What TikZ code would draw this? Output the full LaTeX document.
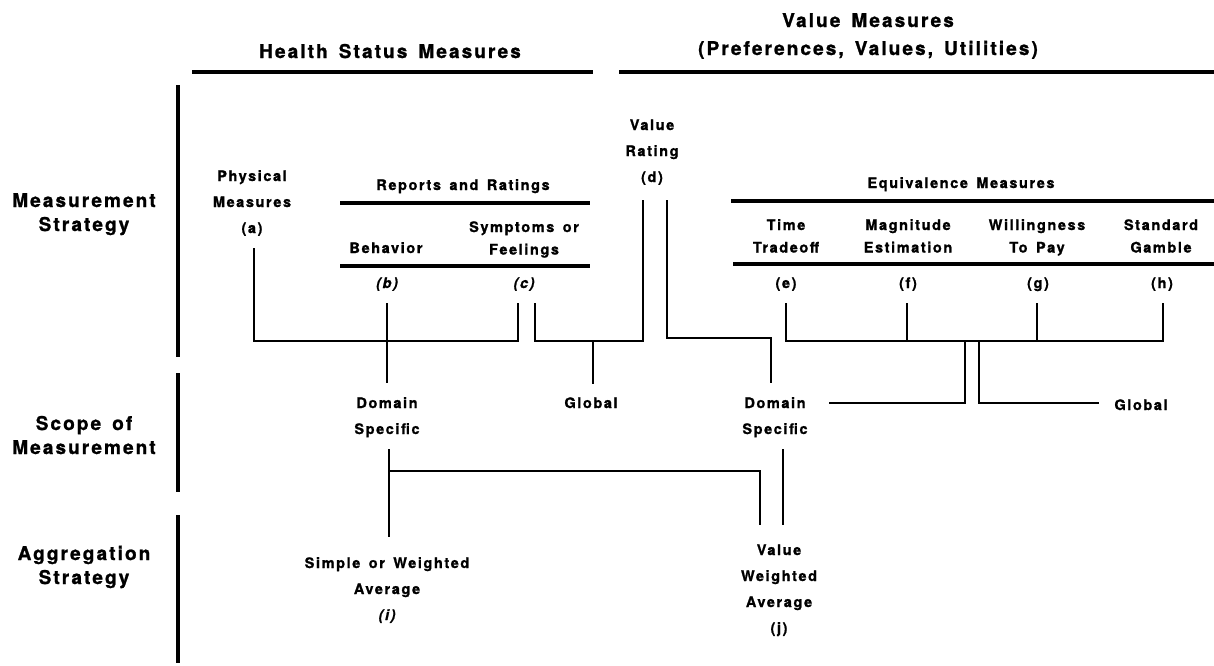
\documentclass[tikz,border=0pt]{standalone}
\usepackage{fontspec}
\newfontfamily\hvfont{TeX Gyre Heros}[LetterSpace=11,WordSpace=1.5,BoldFeatures={FakeBold=1.2},BoldItalicFeatures={FakeBold=1.2}]
\newcommand\mlines[1]{\begin{tabular}[t]{@{}c@{}}#1\end{tabular}}
\tikzset{
  lab/.style={font=\hvfont\bfseries\fontsize{14.5}{26}\selectfont, inner sep=0pt, anchor=base},
  labtight/.style={font=\hvfont\bfseries\fontsize{14.5}{22.5}\selectfont, inner sep=0pt, anchor=base},
  rowlab/.style={font=\hvfont\bfseries\fontsize{19}{24}\selectfont, inner sep=0pt, anchor=base},
  headlab/.style={font=\hvfont\bfseries\fontsize{19}{28}\selectfont, inner sep=0pt, anchor=base},
  conn/.style={line width=2.8pt, line cap=butt, line join=miter},
  rule/.style={line width=4.2pt, line cap=butt},
  bar/.style={line width=4.6pt, line cap=butt},
}
\begin{document}
\begin{tikzpicture}[x=1pt,y=-1pt]
\useasboundingbox (0,0) rectangle (1214,665);
% ---------- headers
\node[headlab] (hsm) at (390,58) {Health Status Measures};
\node[headlab] (vm) at (868,27) {\mlines{Value Measures\\(Preferences, Values, Utilities)}};
\coordinate (hsmL) at (192,72); \coordinate (hsmR) at (593,72);
\coordinate (vmL) at (619,72);  \coordinate (vmR) at (1214,72);
\draw[rule, line width=4.6pt] (hsmL) -- (hsmR);
\draw[rule, line width=4.6pt] (vmL) -- (vmR);
% ---------- left bar and row labels
\coordinate (b1t) at (178,85);  \coordinate (b1b) at (178,357);
\coordinate (b2t) at (178,373); \coordinate (b2b) at (178,492);
\coordinate (b3t) at (178,515); \coordinate (b3b) at (178,663);
\draw[bar] (b1t) -- (b1b);
\draw[bar] (b2t) -- (b2b);
\draw[bar] (b3t) -- (b3b);
\node[rowlab] (rms) at (84,207) {\mlines{Measurement\\Strategy}};
\node[rowlab] (rsm) at (84,430) {\mlines{Scope of\\Measurement}};
\node[rowlab] (ras) at (84,560) {\mlines{Aggregation\\Strategy}};
% ---------- health status measures
\node[lab] (a) at (252,181) {\mlines{Physical\\Measures\\(a)}};
\node[lab] (rr) at (463,190) {Reports and Ratings};
\coordinate (rr1L) at (340,203); \coordinate (rr1R) at (590,203);
\coordinate (rr2L) at (340,266); \coordinate (rr2R) at (590,266);
\draw[rule] (rr1L) -- (rr1R);
\draw[rule] (rr2L) -- (rr2R);
\node[lab] (beh) at (386,253) {Behavior};
\node[labtight] (sym) at (524,232) {\mlines{Symptoms or\\Feelings}};
\node[lab] (b) at (387,288) {\itshape (b)};
\node[lab] (c) at (524,288) {\itshape (c)};
% ---------- value rating
\node[lab] (d) at (652,130) {\mlines{Value\\Rating\\(d)}};
% ---------- equivalence measures
\node[lab] (eq) at (961,188) {Equivalence Measures};
\coordinate (eq1L) at (731,201); \coordinate (eq1R) at (1214,201);
\coordinate (eq2L) at (733,264); \coordinate (eq2R) at (1214,264);
\draw[rule] (eq1L) -- (eq1R);
\draw[rule] (eq2L) -- (eq2R);
\node[labtight] (tt) at (786,230) {\mlines{Time\\Tradeoff}};
\node[labtight] (me) at (908,230) {\mlines{Magnitude\\Estimation}};
\node[labtight] (wp) at (1037,230) {\mlines{Willingness\\To Pay}};
\node[labtight] (sg) at (1161,230) {\mlines{Standard\\Gamble}};
\node[lab] (e) at (786,288) {(e)};
\node[lab] (f) at (908,288) {(f)};
\node[lab] (g) at (1038,288) {(g)};
\node[lab] (h) at (1162,288) {(h)};
% ---------- scope of measurement
\node[lab] (dsl) at (387,408) {\mlines{Domain\\Specific}};
\node[lab] (gll) at (591,408) {Global};
\node[lab] (dsr) at (775,408) {\mlines{Domain\\Specific}};
\node[lab] (glr) at (1141,410) {Global};
% ---------- aggregation strategy
\node[lab] (swa) at (387,568) {\mlines{Simple or Weighted\\Average\\\itshape (i)}};
\node[lab] (vwa) at (779,555) {\mlines{Value\\Weighted\\Average\\(j)}};
% ---------- connectors: measurement -> scope
\coordinate (aT) at (254,248);
\coordinate (cL) at (518,303);
\coordinate (hsJ) at (254,341);
\draw[conn] (aT) -- (hsJ) -| (cL);
\coordinate (bT) at (387,303); \coordinate (bB) at (387,383);
\draw[conn] (bT) -- (bB);
\coordinate (cR) at (535,303);
\coordinate (glT) at (593,341); \coordinate (glB) at (593,384);
\coordinate (dLT) at (643,200);
\draw[conn] (cR) |- (glT) -| (dLT);
\draw[conn] (glT) -- (glB);
\coordinate (dRT) at (667,200);
\coordinate (dsrJ) at (771,338); \coordinate (dsrT) at (771,383);
\draw[conn] (dRT) |- (dsrJ) -- (dsrT);
\coordinate (eT) at (786,303); \coordinate (fT) at (907,303);
\coordinate (gT) at (1037,303); \coordinate (hT) at (1163,303);
\coordinate (hJ) at (1163,341);
\draw[conn] (eT) |- (hJ) -- (hT);
\draw[conn] (fT) -- (fT |- hJ);
\draw[conn] (gT) -- (gT |- hJ);
\coordinate (jlT) at (965,341); \coordinate (jlE) at (829,403);
\coordinate (jrT) at (979,341); \coordinate (jrE) at (1099,403);
\draw[conn] (jlT) |- (jlE);
\draw[conn] (jrT) |- (jrE);
% ---------- connectors: scope -> aggregation
\coordinate (iT) at (389,449); \coordinate (iB) at (389,537);
\coordinate (iJ) at (389,471); \coordinate (jlB) at (760,525);
\draw[conn] (iT) -- (iB);
\draw[conn] (iJ) -| (jlB);
\coordinate (jrTT) at (783,449); \coordinate (jrB) at (783,525);
\draw[conn] (jrTT) -- (jrB);
\end{tikzpicture}
\end{document}
